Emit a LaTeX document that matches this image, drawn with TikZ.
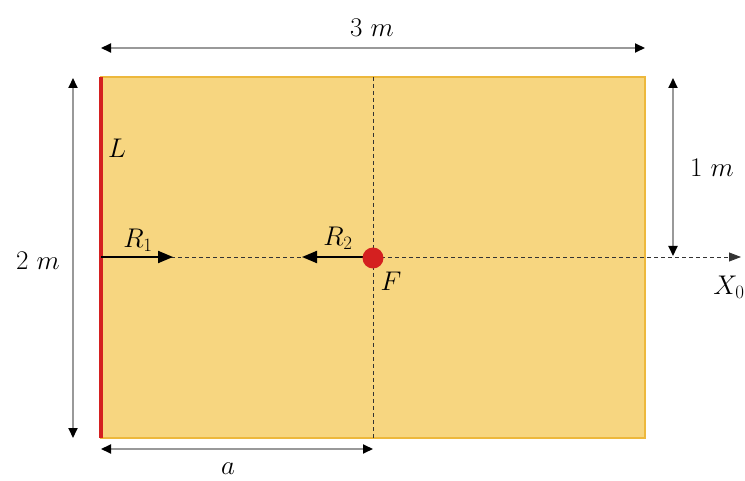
\RequirePackage{fix-cm}
\documentclass[tikz,border=0pt]{standalone}
\usetikzlibrary{arrows.meta}
\definecolor{plate}{HTML}{F7D680}
\definecolor{plateedge}{HTML}{EDB83C}
\definecolor{redline}{HTML}{D42020}
\definecolor{dimgray}{HTML}{999999}
\tikzset{
  dim/.style={draw=dimgray, line width=2pt, {Triangle[length=10pt,width=9pt,fill=black,color=black]}-{Triangle[length=10pt,width=9pt,fill=black,color=black]}},
  force/.style={draw=black, line width=2pt, -{Triangle[length=15pt,width=12pt]}},
  lbl/.style={font=\fontsize{27}{31}\selectfont, inner sep=0pt},
  guide/.style={draw=black!80, line width=0.8pt, dash pattern=on 4pt off 3pt}
}
\begin{document}
\begin{tikzpicture}[x=1pt,y=-1pt]
\useasboundingbox (0,0) rectangle (745,481);
% plate
\fill[plate, draw=plateedge, line width=1.5pt] (101,77) rectangle (645,438);
\coordinate (TL) at (101,77);
\coordinate (BL) at (101,438);
\coordinate (TR) at (645,77);
\coordinate (BR) at (645,438);
\coordinate (Ftop) at (373,77);
\coordinate (Fbot) at (373,438);
\coordinate (Lmid) at (101,257);
\coordinate (Xend) at (741,257);
% guides
\draw[guide] (Ftop) -- (Fbot);
\draw[guide, -{Triangle[length=12pt,width=9pt]}] (Lmid) -- (Xend);
% red edge
\draw[redline, line width=3.5pt] (TL) -- (BL);
% forces
\coordinate (R1e) at (173,257);
\coordinate (R2s) at (364,257);
\coordinate (R2e) at (302,257);
\draw[force] (Lmid) -- (R1e);
\draw[force] (R2s) -- (R2e);
\node[circle, fill=redline, minimum size=21pt, inner sep=0pt] (F) at (373,258) {};
% labels
\node[lbl] (Ll) at (117,148) {$L$};
\node[lbl] (R1l) at (138,240) {$R_1$};
\node[lbl] (R2l) at (338,238) {$R_2$};
\node[lbl] (Fl) at (391,281) {$F$};
\node[lbl] (X0l) at (729,287) {$X_0$};
% dimensions
\coordinate (d3a) at (101,48); \coordinate (d3b) at (645,48);
\draw[dim] (d3a) -- (d3b);
\node[lbl] (l3) at (372,28) {$3\ m$};
\coordinate (d2a) at (73,78); \coordinate (d2b) at (73,438);
\draw[dim] (d2a) -- (d2b);
\node[lbl] (l2) at (38,261) {$2\ m$};
\coordinate (d1a) at (673,78); \coordinate (d1b) at (673,256);
\draw[dim] (d1a) -- (d1b);
\node[lbl] (l1) at (712,168) {$1\ m$};
\coordinate (daa) at (101,449); \coordinate (dab) at (373,449);
\draw[dim] (daa) -- (dab);
\node[lbl] (la) at (228,469) {$a$};
\end{tikzpicture}
\end{document}
